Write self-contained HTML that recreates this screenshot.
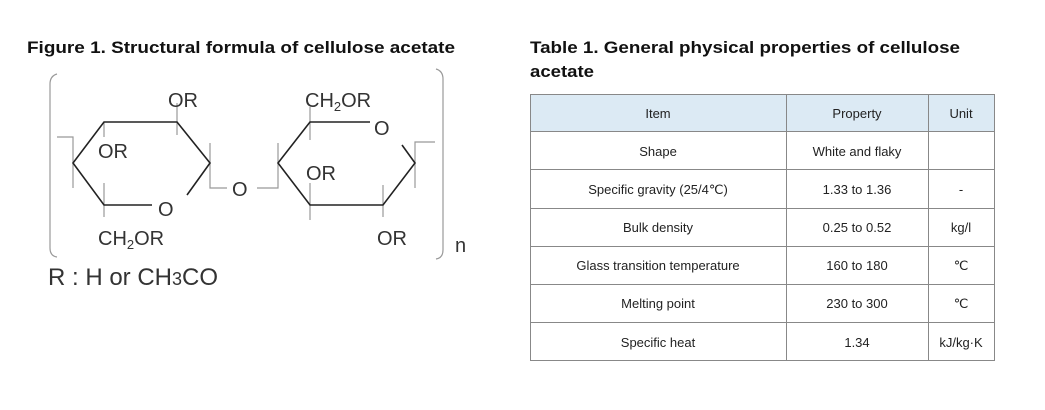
<!DOCTYPE html>
<html><head><meta charset="utf-8"><style>
html,body{margin:0;padding:0;background:#fff;width:1045px;height:410px;overflow:hidden}
svg{display:block}
</style></head><body>
<svg width="1045" height="410" viewBox="0 0 1045 410" xmlns="http://www.w3.org/2000/svg" font-family="Liberation Sans, sans-serif">
<text x="27" y="53" font-size="17" font-weight="bold" fill="#111" textLength="428" lengthAdjust="spacingAndGlyphs">Figure 1. Structural formula of cellulose acetate</text>
<text x="530" y="53" font-size="17" font-weight="bold" fill="#111" textLength="430" lengthAdjust="spacingAndGlyphs">Table 1. General physical properties of cellulose</text>
<text x="530" y="77" font-size="17" font-weight="bold" fill="#111" textLength="64" lengthAdjust="spacingAndGlyphs">acetate</text>

<g fill="none" stroke="#999" stroke-width="1.2">
<path d="M57,74 Q50,76 50,84 L50,248 Q50,256 57,257"/>
<path d="M436,69 Q443,71 443,79 L443,250 Q443,258 436,259"/>
<path d="M57,137 H73 V188"/>
<path d="M104,122 V137 M177,103 V135 M104,183 V217"/>
<path d="M210,143 V188 H227 M257,188 H278 V143"/>
<path d="M310,107 V140 M310,183 V220 M383,185 V217"/>
<path d="M415,188 V142 H435"/>
</g>
<g fill="none" stroke="#222" stroke-width="1.6">
<path d="M152,205 H104 L73,163 L104,122 H177 L210,163 L187,195"/>
<path d="M370,122 H310 L278,163 L310,205 H383 L415,163 L402,145"/>
</g>
<g font-size="20" fill="#333">
<text x="168" y="107">OR</text>
<text x="98" y="158">OR</text>
<text x="158" y="216">O</text>
<text x="98" y="245">CH<tspan font-size="13" dy="4">2</tspan><tspan dy="-4">OR</tspan></text>
<text x="232" y="196">O</text>
<text x="305" y="107">CH<tspan font-size="13" dy="4">2</tspan><tspan dy="-4">OR</tspan></text>
<text x="374" y="135">O</text>
<text x="306" y="180">OR</text>
<text x="377" y="245">OR</text>
<text x="455" y="252">n</text>
</g>
<text x="48" y="285" font-size="24" fill="#333">R : H or CH<tspan font-size="18">3</tspan>CO</text>

<rect x="530.5" y="94.5" width="464" height="37" fill="#dceaf4"/>
<g stroke="#888" stroke-width="1" fill="none">
<rect x="530.5" y="94.5" width="464" height="266"/>
<path d="M786.5,94.5 V360.5 M928.5,94.5 V360.5"/>
<path d="M530.5,131.5 H994.5 M530.5,169.5 H994.5 M530.5,208.5 H994.5 M530.5,246.5 H994.5 M530.5,284.5 H994.5 M530.5,322.5 H994.5"/>
</g>
<g font-size="13" fill="#222" text-anchor="middle">
<text x="658" y="118">Item</text><text x="857" y="118">Property</text><text x="961" y="118">Unit</text>
<text x="658" y="156">Shape</text><text x="857" y="156">White and flaky</text>
<text x="658" y="194">Specific gravity (25/4℃)</text><text x="857" y="194">1.33 to 1.36</text><text x="961" y="194">-</text>
<text x="658" y="232">Bulk density</text><text x="857" y="232">0.25 to 0.52</text><text x="961" y="232">kg/l</text>
<text x="658" y="270">Glass transition temperature</text><text x="857" y="270">160 to 180</text><text x="961" y="270">℃</text>
<text x="658" y="308">Melting point</text><text x="857" y="308">230 to 300</text><text x="961" y="308">℃</text>
<text x="658" y="347">Specific heat</text><text x="857" y="347">1.34</text><text x="961" y="347">kJ/kg·K</text>
</g>
</svg>
</body></html>
